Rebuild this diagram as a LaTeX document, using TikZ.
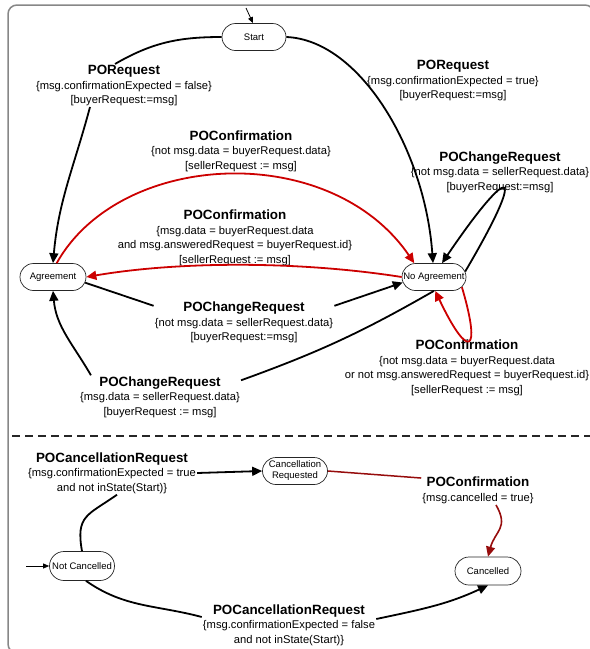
\documentclass[tikz,border=0pt]{standalone}
\usepackage{fontspec}
\setmainfont{Liberation Sans}
\usetikzlibrary{arrows.meta,shapes.misc}
\definecolor{confred}{RGB}{204,0,0}
\definecolor{cancred}{RGB}{150,12,12}
\definecolor{framegray}{RGB}{135,135,135}
\newcommand{\evt}[1]{{\fontsize{13.4}{15}\selectfont\bfseries #1}}

\begin{document}
\begin{tikzpicture}[x=1pt, y=1pt,
  stnode/.style={rounded rectangle, draw=black!85, line width=0.7pt, minimum width=66pt,
    minimum height=27pt, inner xsep=1pt, align=center, font=\fontsize{9.5}{11}\selectfont},
  trline/.style={line width=1.8pt},
  trarrow/.style={line width=1.8pt, -{Triangle[length=10pt,width=9pt]}},
  initarrow/.style={line width=0.8pt, -{Triangle[length=6pt,width=5pt]}},
  trlabel/.style={align=center, inner sep=1pt, font=\fontsize{11.2}{14.5}\selectfont}]
  \useasboundingbox (0,0) rectangle (590,-649);
  \draw[framegray, line width=1.5pt, rounded corners=9pt] (8,-5) rectangle (594,-653);
  \draw[black!85, line width=1.2pt, dash pattern=on 8pt off 5pt] (12,-436) -- (590,-436);

  % states
  \node[stnode] (start) at (254,-37) {Start};
  \node[stnode, minimum width=68pt] (agr) at (53,-277) {Agreement};
  \node[stnode] (noagr) at (434,-277) {No Agreement};
  \node[stnode, minimum width=67pt] (cancreq) at (295,-471) {Cancellation\\Requested};
  \node[stnode, minimum width=67pt, minimum height=29pt] (notcanc) at (82,-566) {Not Cancelled};
  \node[stnode, minimum width=68pt, minimum height=28pt] (canc) at (488,-571) {Cancelled};
  \coordinate (startin) at (246,-8);
  \coordinate (notcancin) at (26,-566);

  % labels
  \node[trlabel] (lreqf) at (124,-85.5) {\evt{PORequest}\\\{msg.confirmationExpected = false\}\\{[}buyerRequest:=msg]};
  \node[trlabel] (lreqt) at (453,-80.5) {\evt{PORequest}\\\{msg.confirmationExpected = true\}\\{[}buyerRequest:=msg]};
  \node[trlabel] (lconf1) at (241,-151) {\evt{POConfirmation}\\\{not msg.data = buyerRequest.data\}\\{[}sellerRequest := msg]};
  \node[trlabel] (lconf2) at (235,-238) {\evt{POConfirmation}\\\{msg.data = buyerRequest.data\\and msg.answeredRequest = buyerRequest.id\}\\{[}sellerRequest := msg]};
  \node[trlabel] (lchg1) at (244,-322.5) {\evt{POChangeRequest}\\\{not msg.data = sellerRequest.data\}\\{[}buyerRequest:=msg]};
  \node[trlabel] (lchg2) at (160,-397) {\evt{POChangeRequest}\\\{msg.data = sellerRequest.data\}\\{[}buyerRequest := msg]};
  \node[trlabel] (lchg3) at (500,-172) {\evt{POChangeRequest}\\\{not msg.data = sellerRequest.data\}\\{[}buyerRequest:=msg]};
  \node[trlabel] (lconf4) at (467,-368) {\evt{POConfirmation}\\\{not msg.data = buyerRequest.data\\or not msg.answeredRequest = buyerRequest.id\}\\{[}sellerRequest := msg]};
  \node[trlabel] (lcreq1) at (112,-473) {\evt{POCancellationRequest}\\\{msg.confirmationExpected = true\\and not inState(Start)\}};
  \node[trlabel] (lconf3) at (478,-490.5) {\evt{POConfirmation}\\\{msg.cancelled = true\}};
  \node[trlabel] (lcreq2) at (289,-625) {\evt{POCancellationRequest}\\\{msg.confirmationExpected = false\\and not inState(Start)\}};

  % upper machine
  \draw[initarrow] (startin) -- ([xshift=-1pt]start.north);
  \draw[trline] (start.west) to[out=180,in=30] ([xshift=-9pt]lreqf.north);
  \draw[trarrow] ([xshift=-34pt]lreqf.south) to[out=-105,in=85] (agr.north);
  \draw[trarrow] (start.east) .. controls (360,-40) and (425,-150) .. ([xshift=-1pt]noagr.north);
  \draw[trarrow, confred] (agr.75) .. controls (120,-150) and (330,-140) .. (noagr.145);
  \draw[trarrow, confred] (noagr.west) .. controls (300,-261) and (180,-261) .. (agr.east);
  \draw[trline] (agr.-10) -- ([yshift=-5pt]lchg1.north west);
  \draw[trarrow] ([yshift=-5pt]lchg1.north east) -- (noagr.190);
  \draw[trline] (noagr.south) to[bend left=5] ([yshift=-5pt]lchg2.north east);
  \draw[trarrow] ([xshift=12pt]lchg2.north west) to[out=120,in=-85] (agr.south);
  \draw[trarrow] (noagr.10) .. controls (528,-165) and (512,-160) .. (noagr.60);
  \draw[trarrow, confred] (noagr.-20) .. controls (482,-355) and (468,-360) .. (noagr.-85);

  % lower machine
  \draw[initarrow] (notcancin) -- (notcanc.west);
  \draw[trline] (notcanc.north) to[out=100,in=-145,looseness=1.4] ([xshift=5pt]lcreq1.south);
  \draw[trarrow] (lcreq1.east) -- (cancreq.west);
  \draw[trline, cancred, line width=1.5pt] (cancreq.east) -- ([yshift=-2pt]lconf3.north west);
  \draw[trarrow, cancred, line width=1.6pt] ([xshift=18pt]lconf3.south) to[out=-60,in=75,looseness=1.3] (canc.north);
  \draw[trline] (notcanc.-75) to[out=-35,in=165] ([yshift=8pt]lcreq2.west);
  \draw[trarrow] ([yshift=6pt]lcreq2.east) to[out=12,in=-155] (canc.south);
\end{tikzpicture}
\end{document}
